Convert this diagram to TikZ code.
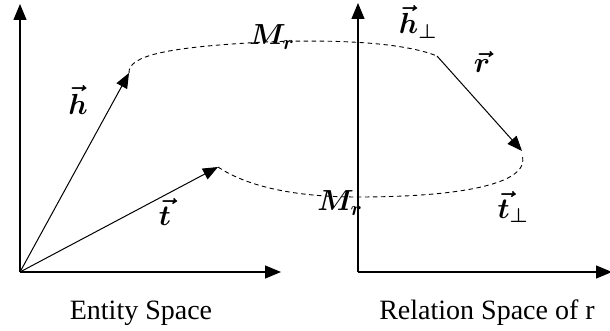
\documentclass[tikz,border=0pt]{standalone}
\usepackage{fontspec}
\setmainfont{Liberation Serif}
\usetikzlibrary{arrows.meta}
\tikzset{
  axis/.style={line width=1.3pt,-{Triangle[length=16pt,width=13pt]}},
  vec/.style={line width=1pt,-{Triangle[length=15pt,width=12pt]}},
  proj/.style={line width=0.9pt,dash pattern=on 4.5pt off 3.5pt},
  mlabel/.style={font=\fontsize{20}{24}\selectfont\boldmath,inner sep=0pt,scale=1.4},
  caption/.style={font=\fontsize{28}{32}\selectfont,inner sep=0pt}
}
\begin{document}
\begin{tikzpicture}[x=1pt,y=-1pt]
\useasboundingbox (0,0) rectangle (610,331);
% left space
\coordinate (O1) at (20,272);
\coordinate (Y1) at (20,4);
\coordinate (X1) at (281,272);
\coordinate (H) at (129,73);
\coordinate (T) at (218,167);
\draw[axis] (O1) -- (Y1);
\draw[axis] (O1) -- (X1);
\draw[vec] (O1) -- (H);
\draw[vec] (O1) -- (T);
\node[mlabel] (hl) at (78,100) {$\vec{h}$};
\node[mlabel] (tl) at (165,212) {$\vec{t}$};
% right space
\coordinate (O2) at (358,272);
\coordinate (Y2) at (358,3);
\coordinate (X2) at (612,272);
\coordinate (HP) at (437,56);
\coordinate (TP) at (522,151);
\draw[axis] (O2) -- (Y2);
\draw[axis] (O2) -- (X2);
\draw[vec] (HP) -- (TP);
% projections
\draw[proj] (H) .. controls (128,55) and (170,47) .. (265,42) .. controls (340,39) and (405,43) .. (HP);
\draw[proj] (T) .. controls (245,185) and (290,197) .. (358,197) .. controls (450,197) and (532,186) .. (522,155);
\node[mlabel] (mr1) at (272,37) {$M_r$};
\node[mlabel] (mr2) at (340,203) {$M_r$};
\node[mlabel] (hpl) at (418,22) {$\vec{h}_{\perp}$};
\node[mlabel] (rl) at (482,62) {$\vec{r}$};
\node[mlabel] (tpl) at (513,207) {$\vec{t}_{\perp}$};
\node[caption] (c1) at (141,313) {Entity Space};
\node[caption] (c2) at (487,313) {Relation Space of r};
\end{tikzpicture}
\end{document}
